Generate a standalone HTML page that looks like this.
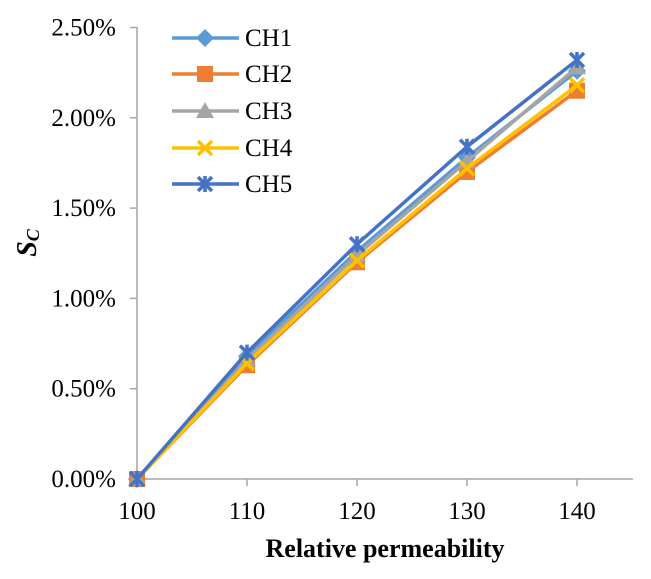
<!DOCTYPE html>
<html><head><meta charset="utf-8"><style>
body{margin:0;background:#fff}
svg text{font-family:"Liberation Serif",serif;fill:#000}
</style></head><body>
<svg id="c" width="651" height="574"></svg>
<script>
const categories=[100,110,120,130,140];
const seriesNames=["CH1","CH2","CH3","CH4","CH5"];
const ch1=[0,0.68,1.26,1.78,2.26];
const ch2=[0,0.63,1.20,1.70,2.15];
const ch3=[0,0.66,1.24,1.76,2.28];
const ch4=[0,0.64,1.21,1.72,2.18];
const ch5=[0,0.70,1.30,1.84,2.32];
const yTicks=[0,0.5,1.0,1.5,2.0,2.5];
const xTicks=[100,110,120,130,140];
const colors=["#5b9bd5","#ed7d31","#a5a5a5","#ffc000","#4472c4"];
const markers=["diamond","square","triangle","x","star"];
const svg=document.getElementById('c');const NS="http://www.w3.org/2000/svg";
function X(v){return 137+(v-100)*11.0;}
function Y(v){return 479-v*180.6;}
function mk(t,a,p){const e=document.createElementNS(NS,t);for(const k in a)e.setAttribute(k,a[k]);(p||svg).appendChild(e);return e;}
const ya=mk('line',{x1:137,y1:27,x2:137,y2:479,stroke:'#a6a6a6','stroke-width':1.5});


const xa=mk('line',{x1:137,y1:479,x2:633,y2:479,stroke:'#a6a6a6','stroke-width':1.5});


yTicks.forEach(v=>{mk('line',{x1:130,y1:Y(v),x2:137,y2:Y(v),stroke:'#a6a6a6','stroke-width':1.5});
const t=mk('text',{x:116,y:Y(v)+8,'text-anchor':'end','font-size':25});t.textContent=v.toFixed(2)+'%';

});
xTicks.forEach(v=>{mk('line',{x1:X(v),y1:479,x2:X(v),y2:486,stroke:'#a6a6a6','stroke-width':1.5});
const t=mk('text',{x:X(v),y:519,'text-anchor':'middle','font-size':25});t.textContent=v;

});
const xt=mk('text',{x:385,y:557,'text-anchor':'middle','font-size':26,'font-weight':'bold'});xt.textContent='Relative permeability';


const yt=mk('text',{transform:'translate(36,243) rotate(-90)','text-anchor':'middle','font-size':28,'font-weight':'bold','font-style':'italic'});
yt.innerHTML='S<tspan font-size="18" dy="3">C</tspan>';


function marker(type,x,y,c,g){
 if(type=='diamond')mk('polygon',{points:`${x},${y-9} ${x+9},${y} ${x},${y+9} ${x-9},${y}`,fill:c},g);
 else if(type=='square')mk('rect',{x:x-8,y:y-8,width:16,height:16,fill:c},g);
 else if(type=='triangle')mk('polygon',{points:`${x},${y-9} ${x+9},${y+7} ${x-9},${y+7}`,fill:c},g);
 else if(type=='x'){mk('path',{d:`M${x-7},${y-7}L${x+7},${y+7}M${x+7},${y-7}L${x-7},${y+7}`,stroke:c,'stroke-width':3.5},g);}
 else {mk('path',{d:`M${x-7},${y-7}L${x+7},${y+7}M${x+7},${y-7}L${x-7},${y+7}M${x},${y-8}L${x},${y+8}`,stroke:c,'stroke-width':3.5},g);}
}
const data=[ch1,ch2,ch3,ch4,ch5];
data.forEach((s,i)=>{const g=mk('g',{});


mk('polyline',{points:s.map((v,j)=>X(categories[j])+','+Y(v)).join(' '),fill:'none',stroke:colors[i],'stroke-width':3.5},g);
s.forEach((v,j)=>marker(markers[i],X(categories[j]),Y(v),colors[i],g));});
const ly=[38,74,111,148,184];
seriesNames.forEach((n,i)=>{const g=mk('g',{});


mk('line',{x1:172,y1:ly[i],x2:239,y2:ly[i],stroke:colors[i],'stroke-width':3.5},g);
marker(markers[i],205,ly[i],colors[i],g);
const t=mk('text',{x:245,y:ly[i]+8,'font-size':25},g);t.textContent=n;});
</script>
</body></html>
